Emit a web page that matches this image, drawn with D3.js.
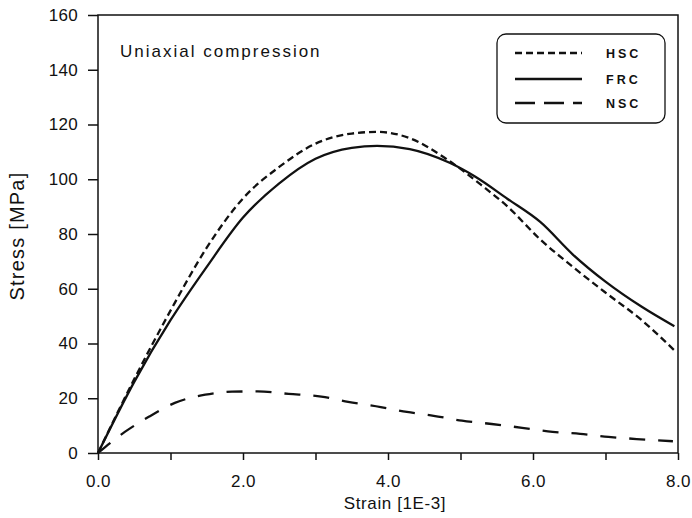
<!DOCTYPE html>
<html>
<head>
<meta charset="utf-8">
<script src="https://cdn.jsdelivr.net/npm/d3@7"></script>
<style>
  body { margin: 0; background: #fff; }
  svg { display: block; }
  text { font-family: "Liberation Sans", Arial, Helvetica, sans-serif; fill: #111; }
</style>
</head>
<body>
<svg id="chart" width="692" height="518"></svg>
<script>
// ---- Data ----
const strainHSC = [0, 0.5, 1.0, 1.5, 2.0, 2.5, 3.0, 3.5, 3.85, 4.3, 4.8, 5.3, 5.65, 6.1, 6.55, 7.0, 7.5, 7.95];
const stressHSC = [0, 27, 52, 75, 93, 104.5, 113, 116.7, 117.3, 115, 107.5, 97.6, 90, 78, 68, 58.6, 48.5, 37.5];

const strainFRC = [0, 0.5, 1.0, 1.5, 2.0, 2.5, 3.0, 3.5, 3.85, 4.3, 4.85, 5.2, 5.65, 6.1, 6.55, 7.0, 7.5, 7.95];
const stressFRC = [0, 26, 48.5, 68, 86, 98.5, 107.5, 111.5, 112.2, 111, 106, 101, 92.8, 84.4, 72.5, 62.6, 53.4, 46.3];

const strainNSC = [0, 0.37, 0.7, 1.06, 1.48, 1.85, 2.2, 2.63, 3.08, 3.45, 3.9, 4.26, 4.63, 5.02, 5.43, 5.85, 6.27, 6.65, 7.04, 7.43, 7.93];
const stressNSC = [0, 7.7, 13.2, 18.3, 21.3, 22.4, 22.5, 21.6, 20.6, 18.7, 16.8, 15, 13.6, 11.8, 10.6, 9.2, 7.7, 7, 5.9, 5.1, 4.3];

const seriesNames = ["HSC", "FRC", "NSC"];
const xTicks = [0, 1, 2, 3, 4, 5, 6, 7, 8];
const xLabelTicks = [0, 2, 4, 6, 8];
const yTicks = [0, 20, 40, 60, 80, 100, 120, 140, 160];
const titleText = "Uniaxial compression";
const xLabel = "Strain [1E-3]";
const yLabel = "Stress [MPa]";

// ---- Layout ----
const svg = d3.select("#chart");
const mLeft = 98, mRight = 678, mTop = 15, mBottom = 453;

const x = d3.scaleLinear().domain([0, 8]).range([mLeft, mRight]);
const y = d3.scaleLinear().domain([0, 160]).range([mBottom, mTop]);

// frame
svg.append("rect")
  .attr("x", mLeft).attr("y", mTop)
  .attr("width", mRight - mLeft).attr("height", mBottom - mTop)
  .attr("fill", "none").attr("stroke", "#111").attr("stroke-width", 1.5);

// y axis
const yAxis = d3.axisLeft(y).tickValues(yTicks).tickSize(10).tickPadding(10)
  .tickFormat(d3.format("d"));
const gy = svg.append("g").attr("transform", `translate(${mLeft},0)`).call(yAxis);
gy.select(".domain").remove();
gy.selectAll("line").attr("stroke", "#111").attr("stroke-width", 1.5);
gy.selectAll("text").style("font-size", "17px").style("letter-spacing", "0.3px");

// x axis
const xAxis = d3.axisBottom(x).tickValues(xTicks).tickSize(7).tickPadding(15)
  .tickFormat(d => xLabelTicks.includes(d) ? d3.format(".1f")(d) : "");
const gx = svg.append("g").attr("transform", `translate(0,${mBottom})`).call(xAxis);
gx.select(".domain").remove();
gx.selectAll("line").attr("stroke", "#111").attr("stroke-width", 1.5);
gx.selectAll("text").style("font-size", "17px").style("letter-spacing", "0.5px");

// axis labels
svg.append("text").attr("x", 395).attr("y", 509).attr("text-anchor", "middle")
  .style("font-size", "17px").style("letter-spacing", "0.6px").text(xLabel);
svg.append("text").attr("transform", "translate(24,236) rotate(-90)")
  .attr("text-anchor", "middle")
  .style("font-size", "20px").style("letter-spacing", "1.2px").text(yLabel);

// title
svg.append("text").attr("x", 120).attr("y", 57)
  .style("font-size", "17px").style("letter-spacing", "2px").text(titleText);

// curves
const line = d3.line().x(d => x(d[0])).y(d => y(d[1])).curve(d3.curveMonotoneX);
const series = [
  { name: "HSC", xs: strainHSC, ys: stressHSC, dash: "7,4", legDash: "7,4" },
  { name: "FRC", xs: strainFRC, ys: stressFRC, dash: null, legDash: null },
  { name: "NSC", xs: strainNSC, ys: stressNSC, dash: "16,13", legDash: "20,9" }
];
series.forEach(s => {
  const pts = s.xs.map((v, i) => [v, s.ys[i]]);
  svg.append("path").datum(pts)
    .attr("d", line)
    .attr("fill", "none").attr("stroke", "#111").attr("stroke-width", 2.3)
    .attr("stroke-dasharray", s.dash);
});

// legend
const leg = svg.append("g");
leg.append("rect").attr("x", 497).attr("y", 34).attr("width", 168).attr("height", 89)
  .attr("rx", 9).attr("ry", 9)
  .attr("fill", "#fff").attr("stroke", "#111").attr("stroke-width", 1.3);
const legY = [53, 79, 103];
series.forEach((s, i) => {
  leg.append("line").attr("x1", 515).attr("x2", 582).attr("y1", legY[i]).attr("y2", legY[i])
    .attr("stroke", "#111").attr("stroke-width", 2.3).attr("stroke-dasharray", s.legDash);
  leg.append("text").attr("x", 606).attr("y", legY[i] + 4.8)
    .style("font-size", "12.5px").style("font-weight", "bold").style("letter-spacing", "3px")
    .text(seriesNames[i]);
});
</script>
</body>
</html>
